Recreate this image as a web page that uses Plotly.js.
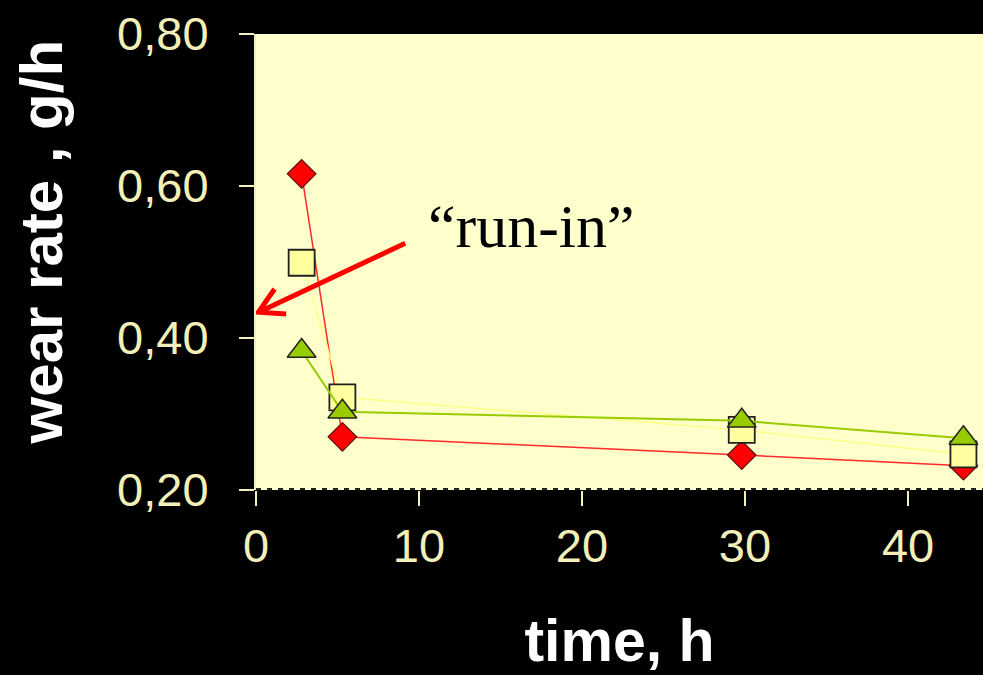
<!DOCTYPE html>
<html>
<head>
<meta charset="utf-8">
<script src="https://cdn.plot.ly/plotly-3.0.1.min.js"></script>
<style>
  html, body { margin: 0; padding: 0; background: #000; }
  #chart { width: 983px; height: 675px; }
</style>
</head>
<body>
<div id="chart"></div>
<script>
// Data
var timeH = [2.8, 5.3, 29.8, 43.4];
var redDiamond = [0.616, 0.270, 0.246, 0.232];
var yellowSquare = [0.499, 0.322, 0.279, 0.247];
var greenTriangle = [0.383, 0.303, 0.291, 0.268];
var xTicks = [0, 10, 20, 30, 40];
var yTicks = [0.20, 0.40, 0.60, 0.80];
var yTickText = ['0,20', '0,40', '0,60', '0,80'];

var cream = '#F2F0B8';

var traces = [
  {
    x: timeH, y: redDiamond, mode: 'lines+markers', type: 'scatter',
    line: { color: '#FF2A2A', width: 1.5 },
    marker: { symbol: 'diamond', size: 22, color: '#FF0000', line: { color: '#5a1010', width: 1.2 } },
    cliponaxis: false
  },
  {
    x: timeH, y: yellowSquare, mode: 'lines+markers', type: 'scatter',
    line: { color: '#FFFF88', width: 1.5 },
    marker: { symbol: 'square', size: 26, color: '#FFFFA0', line: { color: '#222222', width: 1.8 } },
    cliponaxis: false
  },
  {
    x: timeH, y: greenTriangle, mode: 'lines+markers', type: 'scatter',
    line: { color: '#99CC00', width: 2 },
    marker: { symbol: 'triangle-up', size: 25, color: '#99CC00', line: { color: '#222222', width: 1.5 } },
    cliponaxis: false
  }
];

var layout = {
  width: 983, height: 675,
  paper_bgcolor: '#000000',
  plot_bgcolor: '#FFFFCC',
  showlegend: false,
  margin: { l: 255.5, r: 0, t: 33.5, b: 185, pad: 0 },
  font: { family: 'Liberation Sans, Arial, sans-serif', color: cream },
  xaxis: {
    range: [0, 44.6],
    tickvals: xTicks,
    ticks: 'outside', ticklen: 15, tickwidth: 2, tickcolor: cream,
    ticklabelstandoff: 0,
    tickfont: { size: 47, color: cream },
    showgrid: false, zeroline: false, showline: false,
    title: { text: 'time, h', font: { size: 59, color: '#FFFFFF', weight: 'bold' }, standoff: 48 }
  },
  yaxis: {
    range: [0.2, 0.8],
    tickvals: yTicks, ticktext: yTickText,
    ticks: 'outside', ticklen: 15, tickwidth: 2, tickcolor: cream,
    ticklabelstandoff: 21,
    tickfont: { size: 47, color: cream },
    showgrid: false, zeroline: false,
    showline: true, linecolor: cream, linewidth: 2
  },
  shapes: [
    { type: 'line', xref: 'paper', yref: 'y', x0: 0, x1: 1, y0: 0.2, y1: 0.2,
      line: { color: '#222222', width: 4, dash: '5px,6px' } },
    { type: 'path', xref: 'x', yref: 'y',
      path: 'M9.155,0.5246 L0.153,0.434 M1.85,0.4315 L0.153,0.434 L1.14,0.4645',
      line: { color: '#FF0000', width: 5 } }
  ],
  annotations: [
    { x: 16.9, y: 0.548, xref: 'x', yref: 'y', text: '\u201crun-in\u201d', showarrow: false,
      xanchor: 'center', yanchor: 'middle',
      font: { family: 'Liberation Serif, Times New Roman, serif', size: 62, color: '#000000' } },
    { x: 0, y: 0.543, xref: 'paper', yref: 'paper', text: '<b>wear rate , g/h</b>', showarrow: false,
      textangle: -90, xanchor: 'center', yanchor: 'middle', xshift: -215,
      font: { family: 'Liberation Sans, Arial, sans-serif', size: 60, color: '#FFFFFF' } }
  ]
};

Plotly.newPlot('chart', traces, layout, { displayModeBar: false, staticPlot: true });
</script>
</body>
</html>
